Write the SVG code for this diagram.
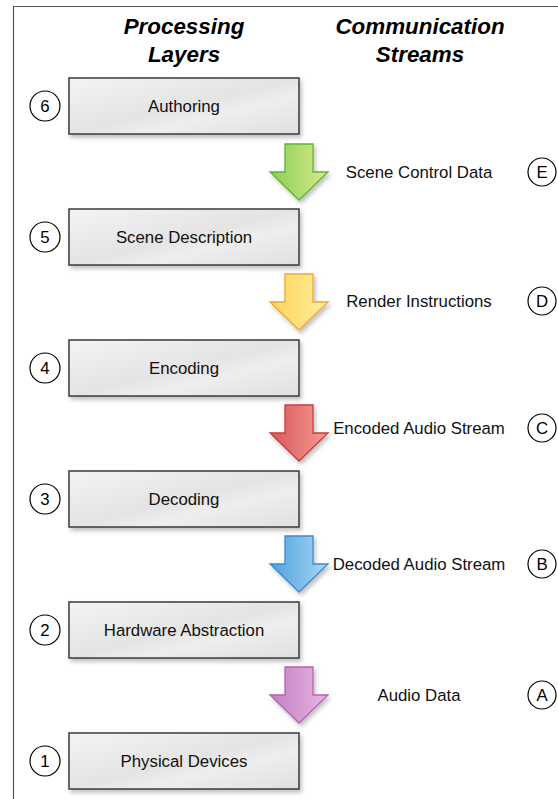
<svg xmlns="http://www.w3.org/2000/svg" width="558" height="799" viewBox="0 0 558 799">
<defs>
<linearGradient id="boxg" x1="0" y1="0" x2="1" y2="1">
<stop offset="0" stop-color="#f4f4f4"/>
<stop offset="0.5" stop-color="#e4e4e4"/>
<stop offset="0.65" stop-color="#eeeeee"/>
<stop offset="1" stop-color="#e0e0e0"/>
</linearGradient>
<linearGradient id="gG" x1="0" y1="0" x2="1" y2="0"><stop offset="0" stop-color="#8ccd55"/><stop offset="1" stop-color="#d6eb8c"/></linearGradient>
<linearGradient id="gY" x1="0" y1="0" x2="1" y2="0"><stop offset="0" stop-color="#fbd35c"/><stop offset="1" stop-color="#fff09c"/></linearGradient>
<linearGradient id="gR" x1="0" y1="0" x2="1" y2="0"><stop offset="0" stop-color="#d95858"/><stop offset="1" stop-color="#f39a94"/></linearGradient>
<linearGradient id="gB" x1="0" y1="0" x2="1" y2="0"><stop offset="0" stop-color="#4f9fdc"/><stop offset="1" stop-color="#a6d8f6"/></linearGradient>
<linearGradient id="gP" x1="0" y1="0" x2="1" y2="0"><stop offset="0" stop-color="#c47ec0"/><stop offset="1" stop-color="#e6b6e2"/></linearGradient>
<filter id="sh" x="-10%" y="-20%" width="130%" height="150%">
<feDropShadow dx="2" dy="3" stdDeviation="2" flood-color="#000" flood-opacity="0.25"/>
</filter>
<path id="arr" d="M-14,0 H14 V28 H29 L0,56 L-29,28 H-14 Z"/>
</defs>
<style>
.box{fill:url(#boxg);stroke:#3a3a3a;stroke-width:1.5;filter:url(#sh)}
.lbl{font-family:"Liberation Sans",Arial,sans-serif;font-size:16.8px;fill:#111;text-anchor:middle}
.hd{font-family:"Liberation Sans",Arial,sans-serif;font-size:22.4px;font-weight:bold;font-style:italic;fill:#000;text-anchor:middle}
.circ{fill:#fff;stroke:#000;stroke-width:1.2}
.num{font-family:"Liberation Sans",Arial,sans-serif;font-size:16.8px;fill:#000;text-anchor:middle}
.a{stroke-width:1.3;filter:url(#sh)}
</style>
<rect width="558" height="799" fill="#fff"/>
<path d="M13.5,799 V6.5 H560" fill="none" stroke="#555" stroke-width="1.2"/>
<g id="headers">
<text class="hd" x="184" y="34">Processing</text>
<text class="hd" x="184" y="62">Layers</text>
<text class="hd" x="420" y="34">Communication</text>
<text class="hd" x="420" y="62">Streams</text>
</g>
<g id="layer6"><circle class="circ" cx="45" cy="106" r="15"/><text class="num" x="45" y="112">6</text><rect class="box" x="69" y="78" width="230" height="56"/><text class="lbl" x="184" y="112">Authoring</text></g>
<g id="layer5"><circle class="circ" cx="45" cy="237" r="15"/><text class="num" x="45" y="243">5</text><rect class="box" x="69" y="209" width="230" height="56"/><text class="lbl" x="184" y="243">Scene Description</text></g>
<g id="layer4"><circle class="circ" cx="45" cy="368" r="15"/><text class="num" x="45" y="374">4</text><rect class="box" x="69" y="340" width="230" height="56"/><text class="lbl" x="184" y="374">Encoding</text></g>
<g id="layer3"><circle class="circ" cx="45" cy="499" r="15"/><text class="num" x="45" y="505">3</text><rect class="box" x="69" y="471" width="230" height="56"/><text class="lbl" x="184" y="505">Decoding</text></g>
<g id="layer2"><circle class="circ" cx="45" cy="630" r="15"/><text class="num" x="45" y="636">2</text><rect class="box" x="69" y="602" width="230" height="56"/><text class="lbl" x="184" y="636">Hardware Abstraction</text></g>
<g id="layer1"><circle class="circ" cx="45" cy="761" r="15"/><text class="num" x="45" y="767">1</text><rect class="box" x="69" y="733" width="230" height="56"/><text class="lbl" x="184" y="767">Physical Devices</text></g>
<g id="connectors">
<use href="#arr" class="a" x="299" y="144" fill="url(#gG)" stroke="#5cb531"/>
<use href="#arr" class="a" x="299" y="274" fill="url(#gY)" stroke="#f0a830"/>
<use href="#arr" class="a" x="299" y="405" fill="url(#gR)" stroke="#c83c3c"/>
<use href="#arr" class="a" x="299" y="536" fill="url(#gB)" stroke="#3a8ad0"/>
<use href="#arr" class="a" x="299" y="667" fill="url(#gP)" stroke="#b464ae"/>
</g>
<g id="streamE"><text class="lbl" x="419" y="178">Scene Control Data</text><circle class="circ" cx="542" cy="172" r="14"/><text class="num" x="542" y="178">E</text></g>
<g id="streamD"><text class="lbl" x="419" y="307">Render Instructions</text><circle class="circ" cx="542" cy="301" r="14"/><text class="num" x="542" y="307">D</text></g>
<g id="streamC"><text class="lbl" x="419" y="434">Encoded Audio Stream</text><circle class="circ" cx="542" cy="428" r="14"/><text class="num" x="542" y="434">C</text></g>
<g id="streamB"><text class="lbl" x="419" y="570">Decoded Audio Stream</text><circle class="circ" cx="542" cy="564" r="14"/><text class="num" x="542" y="570">B</text></g>
<g id="streamA"><text class="lbl" x="419" y="701">Audio Data</text><circle class="circ" cx="542" cy="695" r="14"/><text class="num" x="542" y="701">A</text></g>
</svg>
